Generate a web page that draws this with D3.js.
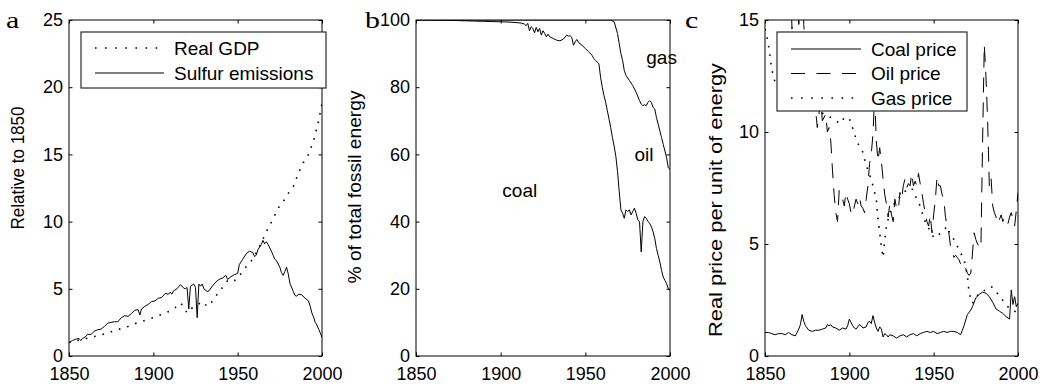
<!DOCTYPE html>
<html><head><meta charset="utf-8">
<script src="https://cdn.jsdelivr.net/npm/d3@7"></script>
<style>
html,body{margin:0;padding:0;background:#fff;}
svg{display:block;}
text{font-family:"Liberation Sans",Arial,Helvetica,sans-serif;fill:#000;}
</style></head>
<body>
<svg id="chart" width="1041" height="385"></svg>
<script>
// ---------- DATA ----------
const xTicks = [1850, 1900, 1950, 2000];

// Panel a
const aYTicks = [0, 5, 10, 15, 20, 25];
const sulfurYears = [1850,1852,1854,1856,1857,1858,1860,1861,1863,1865,1867,1869,1871,1873,1875,1877,1879,1881,1883,1885,1887,1889,1891,1892,1893,1895,1897,1899,1901,1903,1905,1907,1909,1910,1911,1912,1914,1916,1917,1918,1919,1920,1921,1922,1924,1925,1926,1927,1928,1929,1930,1932,1933,1935,1937,1939,1941,1943,1944,1946,1948,1950,1951,1953,1955,1957,1959,1960,1961,1962,1964,1965,1966,1967,1968,1970,1971,1972,1973,1975,1976,1977,1978,1979,1980,1981,1983,1984,1985,1986,1988,1990,1992,1993,1994,1995,1996,1997,1998,1999,2000];
const sulfurValues = [1.0,1.15,1.25,1.3,1.15,1.3,1.45,1.62,1.6,1.85,1.95,2.0,2.2,2.45,2.5,2.55,2.55,2.85,3.0,2.95,3.15,3.4,3.45,3.05,3.5,3.7,3.85,4.05,4.1,4.3,4.35,4.65,4.6,4.75,4.6,4.85,5.0,5.3,5.2,5.05,5.0,5.1,3.5,5.2,5.35,5.1,2.85,5.35,5.2,5.35,5.0,4.8,4.85,5.2,5.5,5.7,5.8,6.0,5.7,5.9,6.05,6.15,6.8,7.2,7.6,7.8,7.7,7.4,7.5,7.9,8.3,8.6,8.35,8.5,8.3,7.8,7.5,7.2,7.1,6.6,6.2,6.0,6.3,6.6,6.1,5.4,4.8,4.5,4.45,4.6,4.55,4.3,4.1,3.7,3.2,2.9,2.5,2.3,2.0,1.7,1.4];
const gdpYears = [1850,1855,1860,1865,1870,1875,1880,1885,1890,1895,1900,1905,1910,1913,1916,1918,1920,1922,1925,1929,1931,1933,1935,1938,1941,1944,1946,1948,1950,1953,1956,1959,1962,1965,1968,1971,1974,1977,1980,1983,1986,1989,1992,1995,1998,2000];
const gdpValues = [1.0,1.15,1.3,1.45,1.6,1.8,2.0,2.2,2.45,2.65,2.85,3.1,3.35,3.6,3.95,3.7,3.2,3.5,3.7,4.05,3.8,3.7,4.1,4.6,5.1,5.6,5.5,5.6,5.8,6.3,6.8,7.2,7.9,8.7,9.5,10.2,11.0,11.5,12.1,12.6,13.6,14.4,15.0,16.0,17.5,18.8];

// Panel b
const bYTicks = [0, 20, 40, 60, 80, 100];
const coalOilYears = [1850,1965,1967,1969,1970,1971,1972,1973,1974,1976,1978,1980,1982,1983,1984,1985,1986,1987,1988,1989,1990,1991,1992,1993,1994,1995,1996,1997,1998,1999,2000];
const coalOilShare = [100,100,99.5,96,93,90,88,85,83.5,82,80.5,78.5,76,75,74.5,74.8,74.5,75.5,76,75.5,74,73.5,71,69,67,65,63,61,59,56,55.5];
const coalYears = [1850,1870,1890,1905,1912,1914,1915,1916,1917,1918,1919,1920,1921,1922,1923,1924,1925,1926,1927,1928,1929,1931,1933,1935,1937,1939,1940,1941,1942,1943,1944,1945,1946,1948,1950,1952,1954,1955,1956,1957,1958,1959,1960,1961,1962,1963,1964,1965,1966,1967,1968,1969,1970,1971,1972,1973,1974,1975,1976,1977,1978,1979,1980,1981,1982,1983,1984,1985,1986,1987,1988,1989,1990,1991,1992,1993,1994,1995,1996,1997,1998,1999,2000];
const coalShare = [100,99.9,99.6,99.4,99.1,98.8,98.3,99,96.8,98,97.5,96.2,97.8,96.5,97.5,95.5,96.8,96,95,95.8,95,94.5,94,93.8,94.3,95.5,95.2,95.3,94.8,92.5,93.5,94.2,93.3,92.5,91.5,90.5,89.5,88.5,88,87.5,87,83,80,77.5,75.5,73,70.5,68,65,62.5,59.5,55,49,43.5,42.5,41,43.5,43,43.5,42,43,44,42.5,40.5,40,31,40,41.5,41,40,39.5,38.5,37,35,32,30,28,25.5,23.5,22.5,21.5,20,19.5];
const bLabels = ["gas", "oil", "coal"];

// Panel c
const cYTicks = [0, 5, 10, 15];
const coalPriceYears = [1850,1852,1854,1856,1858,1860,1862,1864,1866,1868,1870,1871,1872,1873,1874,1876,1878,1880,1882,1884,1886,1887,1888,1889,1890,1892,1894,1896,1898,1899,1900,1901,1902,1903,1904,1905,1906,1907,1908,1910,1911,1912,1913,1914,1915,1916,1917,1918,1919,1920,1921,1922,1923,1924,1926,1928,1930,1932,1934,1936,1938,1940,1942,1944,1946,1948,1950,1952,1954,1956,1958,1960,1962,1964,1966,1968,1970,1972,1973,1975,1977,1979,1981,1983,1985,1987,1989,1991,1993,1995,1996,1997,1998,1999,2000];
const coalPrice = [1.05,1.05,1.0,0.95,1.0,1.0,0.95,1.05,0.95,0.9,1.2,1.4,1.85,1.55,1.35,1.15,1.1,1.15,1.15,1.2,1.25,1.4,1.35,1.4,1.3,1.25,1.15,1.25,1.2,1.35,1.65,1.5,1.35,1.25,1.2,1.3,1.4,1.35,1.25,1.3,1.5,1.55,1.45,1.8,1.5,1.25,1.1,1.3,1.2,0.85,1.0,0.95,0.85,0.95,0.9,0.8,0.9,0.95,0.85,0.95,1.0,0.9,1.0,1.05,1.1,1.05,1.1,1.0,1.05,1.1,1.05,1.1,1.1,1.05,0.95,1.35,1.85,2.05,2.2,2.6,2.75,2.85,2.8,2.65,2.4,2.1,2.0,1.9,1.75,1.65,2.95,2.3,2.65,2.2,2.35];
const oilPriceYears = [1860,1861,1862,1863,1864,1865,1866,1867,1868,1869,1870,1871,1872,1873,1874,1876,1878,1880,1881,1882,1883,1884,1886,1887,1888,1889,1890,1891,1892,1893,1894,1895,1896,1897,1898,1899,1900,1901,1902,1903,1904,1905,1906,1907,1908,1909,1910,1911,1912,1913,1914,1915,1916,1917,1918,1919,1920,1921,1922,1923,1924,1925,1926,1927,1928,1929,1930,1931,1932,1933,1934,1935,1936,1937,1938,1939,1940,1941,1942,1943,1944,1945,1946,1947,1948,1949,1950,1951,1952,1953,1954,1955,1956,1957,1958,1959,1960,1961,1962,1963,1964,1965,1966,1967,1968,1969,1970,1971,1972,1973,1974,1975,1976,1977,1978,1979,1980,1981,1982,1983,1984,1985,1986,1987,1988,1989,1990,1991,1992,1993,1994,1995,1996,1997,1998,1999,2000];
const oilPrice = [22,30,18,25,20,17,14.6,16,15.2,20,14.8,15.5,17,14.8,13.5,14,12,11,10.2,10.8,11.4,10.5,10.8,10.0,10.2,9.6,8.3,7.2,6.4,6.0,7.4,7.2,7.0,6.7,7.3,7.0,6.8,6.4,6.3,6.7,7.0,6.8,7.1,6.7,6.6,6.4,7.0,7.6,8.6,9.0,9.9,11.6,9.6,8.7,9.3,8.7,7.9,7.2,6.8,6.2,6.8,6.3,6.0,7.0,6.6,6.5,7.3,7.0,7.6,7.9,7.5,7.7,7.6,8.15,7.6,7.8,7.6,8.15,7.7,7.3,6.8,6.4,6.0,5.8,6.3,5.5,6.3,7.0,8.0,7.6,7.6,7.2,7.0,6.2,5.8,5.5,4.9,4.7,4.4,4.5,4.4,4.3,4.1,4.2,4.0,3.9,3.7,3.6,3.7,4.6,5.5,5.2,5.0,4.9,4.8,9.5,13.9,12.5,10.5,7.6,8.0,6.7,6.4,6.2,5.9,6.1,6.3,6.0,6.2,6.0,5.9,6.2,6.4,6.1,5.8,6.5,7.3];
const gasPriceYears = [1850,1851,1852,1853,1854,1855,1856,1858,1860,1865,1870,1875,1880,1885,1888,1890,1892,1894,1896,1898,1900,1901,1903,1905,1908,1910,1912,1914,1916,1917,1918,1919,1920,1921,1922,1924,1926,1928,1930,1932,1934,1937,1940,1942,1944,1946,1948,1950,1952,1954,1956,1958,1960,1962,1964,1966,1968,1970,1971,1973,1975,1977,1979,1981,1984,1986,1989,1992,1995,1998,2000];
const gasPrice = [14.6,14.3,13.9,13.4,12.8,12.5,12.2,12.0,11.8,11.5,11.3,11.2,11.0,10.8,10.7,10.6,10.5,10.4,10.6,10.5,10.6,10.4,9.9,9.5,9.1,8.5,8.1,7.6,7.0,6.1,5.5,4.9,4.4,5.2,5.8,6.4,6.7,7.0,7.1,7.3,7.4,7.5,7.0,6.7,6.2,5.8,5.6,5.3,5.3,5.5,5.6,5.8,5.4,5.2,4.9,4.6,4.3,3.6,2.8,2.35,2.6,2.8,2.9,2.95,3.1,3.0,2.65,2.4,2.1,2.0,1.9];

// ---------- DRAW ----------
const svg = d3.select("#chart");
const plotTop = 20, plotBottom = 356;
const styles = {solid: null, dotted: "1.6,7", dashed: "15,10"};

function panel(cfg) {
  const g = svg.append("g");
  const x = d3.scaleLinear().domain([1850, 2000]).range([cfg.left, cfg.right]);
  const y = d3.scaleLinear().domain(cfg.yDomain).range([plotBottom, plotTop]);
  const clipId = "clip" + cfg.id;
  svg.append("clipPath").attr("id", clipId).append("rect")
    .attr("x", cfg.left).attr("y", plotTop).attr("width", cfg.right - cfg.left).attr("height", plotBottom - plotTop);
  const plot = g.append("g").attr("clip-path", `url(#${clipId})`);
  cfg.series.forEach(s => {
    const pts = s.years.map((yr, i) => [yr, s.values[i]]);
    plot.append("path")
      .attr("d", d3.line().x(d => x(d[0])).y(d => y(d[1]))(pts))
      .attr("fill", "none").attr("stroke", "#000").attr("stroke-width", s.style === "dotted" ? 1.6 : 1)
      .attr("stroke-dasharray", styles[s.style]);
  });
  const tl = 3.5;
  const ax = (gen, tx, ty, vals) => {
    const a = g.append("g").attr("transform", `translate(${tx},${ty})`)
      .call(gen.tickValues(vals).tickFormat(d3.format("d")).tickSizeInner(-tl).tickSizeOuter(0).tickPadding(6));
    a.select(".domain").remove();
    a.selectAll("line").attr("stroke", "#000");
    return a;
  };
  const bx = ax(d3.axisBottom(x), 0, plotBottom, xTicks);
  bx.selectAll("text").attr("font-size", 18).attr("dy", "1.02em");
  ax(d3.axisTop(x), 0, plotTop, xTicks).selectAll("text").remove();
  const ly = ax(d3.axisLeft(y), cfg.left, 0, cfg.yTicks);
  ly.selectAll("text").attr("font-size", 18);
  ax(d3.axisRight(y), cfg.right, 0, cfg.yTicks).selectAll("text").remove();
  g.append("rect").attr("x", cfg.left).attr("y", plotTop).attr("width", cfg.right - cfg.left).attr("height", plotBottom - plotTop)
    .attr("fill", "none").attr("stroke", "#000").attr("stroke-width", 1);
  g.append("text").attr("transform", `translate(${cfg.ylabelX},${cfg.ylabelY}) rotate(-90)`)
    .attr("text-anchor", "middle").attr("font-size", cfg.ylabelSize)
    .attr("textLength", cfg.ylabelLen).attr("lengthAdjust", "spacingAndGlyphs").text(cfg.ylabel);
  g.append("text").attr("transform", `translate(${cfg.letterX},28) scale(1.3,1)`).attr("font-size", 23)
    .style("font-family", '"Liberation Serif","Times New Roman",serif').text(cfg.letter);
  if (cfg.legend) {
    const L = cfg.legend;
    const lg = g.append("g");
    lg.append("rect").attr("x", L.x).attr("y", L.y).attr("width", L.w).attr("height", L.h)
      .attr("fill", "#fff").attr("stroke", "#000").attr("stroke-width", 1);
    L.items.forEach((it, i) => {
      const yy = L.y + L.first + i * L.step;
      lg.append("line").attr("x1", L.x + L.l1).attr("x2", L.x + L.l2).attr("y1", yy).attr("y2", yy)
        .attr("stroke", "#000").attr("stroke-width", it.style === "dotted" ? 1.6 : 1)
        .attr("stroke-dasharray", it.style === "dotted" ? "1.6,8.5" : (it.style === "dashed" ? "14,11.5" : null));
      lg.append("text").attr("x", L.x + L.tx).attr("y", yy).attr("dy", "0.36em")
        .attr("font-size", 19).text(it.label);
    });
  }
  return {g, x, y};
}

panel({
  id: "a", left: 69, right: 322, yDomain: [0, 25], yTicks: aYTicks,
  series: [
    {years: gdpYears, values: gdpValues, style: "dotted"},
    {years: sulfurYears, values: sulfurValues, style: "solid"}
  ],
  ylabel: "Relative to 1850", ylabelX: 24, ylabelY: 168, ylabelSize: 18, ylabelLen: 123,
  letter: "a", letterX: 6,
  legend: {x: 81, y: 32, w: 245, h: 56, first: 16, step: 25, l1: 14, l2: 83, tx: 93,
    items: [{label: "Real GDP", style: "dotted"}, {label: "Sulfur emissions", style: "solid"}]}
});

const pb = panel({
  id: "b", left: 416, right: 670, yDomain: [0, 100], yTicks: bYTicks,
  series: [
    {years: coalOilYears, values: coalOilShare, style: "solid"},
    {years: coalYears, values: coalShare, style: "solid"}
  ],
  ylabel: "% of total fossil energy", ylabelX: 361, ylabelY: 187, ylabelSize: 19, ylabelLen: 193,
  letter: "b", letterX: 365
});
const bLabelPos = [[1986, 89], [1979, 60], [1901, 49.5]];
bLabels.forEach((t, i) => {
  pb.g.append("text").attr("x", pb.x(bLabelPos[i][0])).attr("y", pb.y(bLabelPos[i][1])).attr("dy", "0.36em")
    .attr("font-size", 19).text(t);
});

panel({
  id: "c", left: 765, right: 1018, yDomain: [0, 15], yTicks: cYTicks,
  series: [
    {years: coalPriceYears, values: coalPrice, style: "solid"},
    {years: oilPriceYears, values: oilPrice, style: "dashed"},
    {years: gasPriceYears, values: gasPrice, style: "dotted"}
  ],
  ylabel: "Real price per unit of energy", ylabelX: 722, ylabelY: 200, ylabelSize: 19, ylabelLen: 274,
  letter: "c", letterX: 685,
  legend: {x: 777, y: 32, w: 190, h: 79, first: 17, step: 24.5, l1: 14, l2: 84, tx: 94,
    items: [{label: "Coal price", style: "solid"}, {label: "Oil price", style: "dashed"}, {label: "Gas price", style: "dotted"}]}
});
</script>
</body></html>
